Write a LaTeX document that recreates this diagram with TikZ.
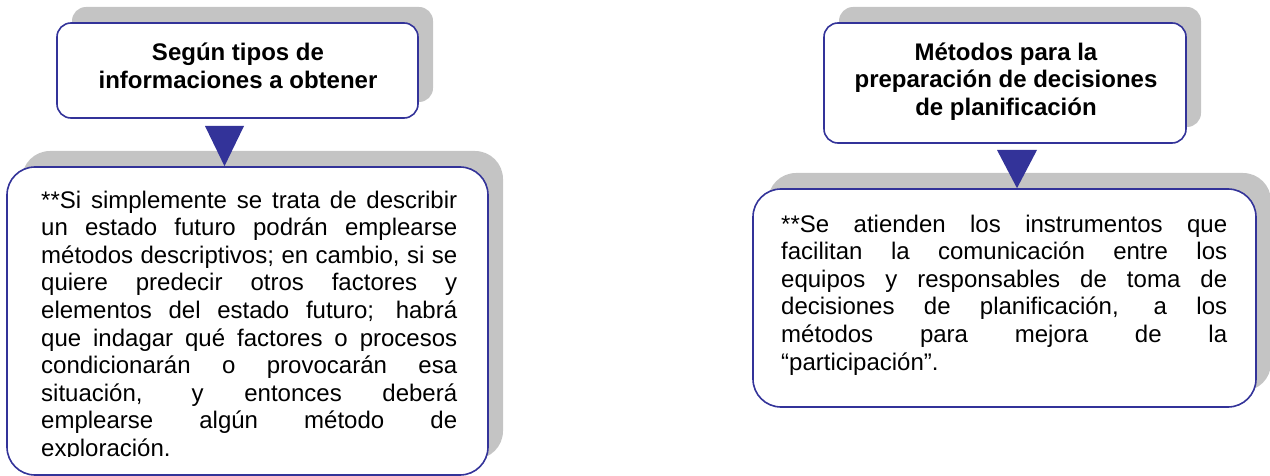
\documentclass[tikz,border=0pt]{standalone}
\usepackage{fontspec}
\setmainfont{Liberation Sans}
\usetikzlibrary{shadows}
\definecolor{bord}{RGB}{51,51,153}
\definecolor{shad}{RGB}{196,196,196}
\newcommand{\jl}[2]{\makebox[#1][s]{#2}}
\begin{document}
\begin{tikzpicture}[x=1pt,y=-1pt,
  box/.style={draw=bord, line width=1.6pt, fill=white, inner sep=0pt,
    drop shadow={shadow xshift=15pt, shadow yshift=16pt, fill=shad, opacity=1}},
  titlebox/.style={box, rounded corners=14pt},
  bodybox/.style={box, rounded corners=28pt},
  titletext/.style={font=\fontsize{24}{27.6}\selectfont\bfseries, align=center, inner sep=0pt},
  bodytext/.style={font=\fontsize{24}{27.6}\selectfont, align=left, inner sep=0pt},
  tri/.style={fill=bord}]
\useasboundingbox (0,0) rectangle (1270,476);

% left column
\node[titlebox, minimum width=361pt, minimum height=95pt] (t1) at (237.5,70.5) {};
\node[titletext] (tt1) at (238,66) {Según tipos de\\informaciones a obtener};
\node[bodybox, minimum width=481pt, minimum height=308pt] (b1) at (247.5,321) {};
\begin{scope}
\clip (0,0) rectangle (1270,456.5);
\node[bodytext, anchor=north west] (bt1) at (41,190.5) {%
\jl{416pt}{**Si simplemente se trata de describir}\\
\jl{416pt}{un estado futuro podrán emplearse}\\
\jl{416pt}{métodos descriptivos; en cambio, si se}\\
\jl{416pt}{quiere predecir otros factores y}\\
\jl{416pt}{elementos del estado futuro; habrá}\\
\jl{416pt}{que indagar qué factores o procesos}\\
\jl{416pt}{condicionarán o provocarán esa}\\
\jl{416pt}{situación, y entonces deberá}\\
\jl{416pt}{emplearse algún método de}\\
exploración.};
\end{scope}
\coordinate (a1) at (224.5,126);
\fill[tri] ([xshift=-19.5pt]a1) -- ([xshift=19.5pt]a1) -- (a1 |- b1.north) -- cycle;

% right column
\node[titlebox, minimum width=362pt, minimum height=120pt] (t2) at (1005,83) {};
\node[titletext] (tt2) at (1006,81.5) {Métodos para la\\preparación de decisiones\\de planificación};
\node[bodybox, minimum width=503pt, minimum height=218pt] (b2) at (1004.5,298) {};
\node[bodytext, anchor=north west] (bt2) at (781,214.5) {%
\jl{446pt}{**Se atienden los instrumentos que}\\
\jl{446pt}{facilitan la comunicación entre los}\\
\jl{446pt}{equipos y responsables de toma de}\\
\jl{446pt}{decisiones de planificación, a los}\\
\jl{446pt}{métodos para mejora de la}\\
“participación”.};
\coordinate (a2) at (1017,150);
\fill[tri] ([xshift=-20pt]a2) -- ([xshift=20pt]a2) -- (a2 |- b2.north) -- cycle;
\end{tikzpicture}
\end{document}
